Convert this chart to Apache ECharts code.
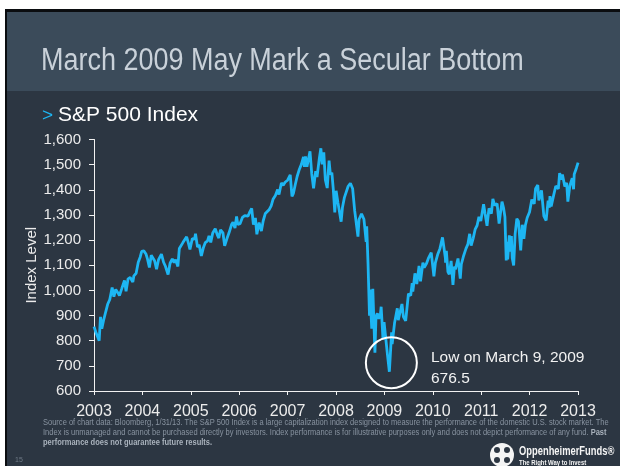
<!DOCTYPE html>
<html>
<head>
<meta charset="utf-8">
<script src="https://cdn.jsdelivr.net/npm/echarts@6/dist/echarts.min.js"></script>
<style>
  html, body { margin: 0; padding: 0; background: #ffffff; }
  #chart { width: 620px; height: 466px; }
</style>
</head>
<body>
<div id="chart"></div>
<script>
// S&P 500 closes (roughly two points a month)
const dates = [
  '2003-01-31','2003-02-14','2003-02-28','2003-03-11','2003-03-21','2003-03-31','2003-04-15','2003-04-30','2003-05-15','2003-05-30',
  '2003-06-17','2003-06-30','2003-07-14','2003-07-31','2003-08-11','2003-08-29','2003-09-18','2003-09-30','2003-10-15','2003-10-31',
  '2003-11-20','2003-11-28','2003-12-15','2003-12-31',
  '2004-01-15','2004-01-26','2004-02-11','2004-02-27','2004-03-10','2004-03-24','2004-04-07','2004-04-19','2004-05-03','2004-05-17',
  '2004-06-01','2004-06-23','2004-07-09','2004-07-23','2004-08-12','2004-08-27','2004-09-13','2004-09-27','2004-10-08','2004-10-25',
  '2004-11-05','2004-11-19','2004-12-03','2004-12-17','2004-12-30',
  '2005-01-14','2005-01-24','2005-02-11','2005-02-28','2005-03-07','2005-03-22','2005-04-04','2005-04-20','2005-05-06','2005-05-20',
  '2005-06-06','2005-06-17','2005-06-30','2005-07-15','2005-08-03','2005-08-19','2005-08-30','2005-09-12','2005-09-30','2005-10-13',
  '2005-10-31','2005-11-15','2005-12-05','2005-12-15','2005-12-30',
  '2006-01-11','2006-01-20','2006-02-06','2006-02-24','2006-03-14','2006-03-28','2006-04-07','2006-04-21','2006-05-05','2006-05-18',
  '2006-06-02','2006-06-13','2006-06-30','2006-07-17','2006-07-31','2006-08-16','2006-08-31','2006-09-15','2006-09-29','2006-10-13',
  '2006-10-31','2006-11-17','2006-11-27','2006-12-15','2006-12-29',
  '2007-01-12','2007-01-31','2007-02-20','2007-03-05','2007-03-16','2007-03-30','2007-04-13','2007-04-30','2007-05-15','2007-05-31',
  '2007-06-07','2007-06-15','2007-06-26','2007-07-19','2007-08-01','2007-08-15','2007-08-31','2007-09-10','2007-09-28','2007-10-09',
  '2007-10-19','2007-10-31','2007-11-12','2007-11-26','2007-12-10','2007-12-20','2007-12-31',
  '2008-01-11','2008-01-22','2008-02-01','2008-02-15','2008-03-10','2008-03-20','2008-04-04','2008-04-17','2008-05-02','2008-05-19',
  '2008-06-05','2008-06-20','2008-07-15','2008-07-23','2008-08-11','2008-08-29','2008-09-15','2008-09-19','2008-09-29','2008-10-10',
  '2008-10-13','2008-10-27','2008-11-04','2008-11-20','2008-11-28','2008-12-08','2008-12-19','2008-12-31',
  '2009-01-06','2009-01-20','2009-01-28','2009-02-09','2009-02-23','2009-03-09','2009-03-26','2009-03-30','2009-04-17','2009-04-30',
  '2009-05-08','2009-05-15','2009-06-12','2009-06-23','2009-07-10','2009-07-31','2009-08-17','2009-08-28','2009-09-02','2009-09-18',
  '2009-10-02','2009-10-19','2009-10-30','2009-11-17','2009-11-27','2009-12-15','2009-12-28',
  '2010-01-19','2010-02-08','2010-02-19','2010-03-10','2010-03-26','2010-04-14','2010-04-23','2010-05-06','2010-05-07','2010-05-13',
  '2010-05-25','2010-06-04','2010-06-18','2010-07-02','2010-07-13','2010-07-20','2010-08-09','2010-08-26','2010-09-03','2010-09-21',
  '2010-10-08','2010-10-22','2010-11-05','2010-11-16','2010-12-01','2010-12-17','2010-12-31',
  '2011-01-14','2011-01-28','2011-02-18','2011-03-01','2011-03-16','2011-03-31','2011-04-18','2011-04-29','2011-05-13','2011-05-31',
  '2011-06-15','2011-06-24','2011-07-07','2011-07-19','2011-07-29','2011-08-08','2011-08-11','2011-08-16','2011-08-19','2011-08-31',
  '2011-09-09','2011-09-16','2011-09-22','2011-10-03','2011-10-14','2011-10-27','2011-11-08','2011-11-25','2011-12-07','2011-12-19',
  '2011-12-30',
  '2012-01-13','2012-01-31','2012-02-17','2012-03-06','2012-03-16','2012-04-02','2012-04-10','2012-04-30','2012-05-18','2012-06-04',
  '2012-06-19','2012-06-28','2012-07-03','2012-07-12','2012-07-31','2012-08-16','2012-09-04','2012-09-14','2012-09-28','2012-10-05',
  '2012-10-23','2012-11-06','2012-11-15','2012-11-30','2012-12-18','2012-12-28','2013-01-02','2013-01-18','2013-01-31'
]
const closes = [
  856, 834, 841, 800, 895, 848, 885, 916, 946, 964,
  1011, 975, 1004, 990, 980, 1008, 1040, 996, 1046, 1051,
  1033, 1058, 1068, 1112,
  1133, 1155, 1157, 1145, 1124, 1091, 1140, 1135, 1117, 1084,
  1122, 1144, 1112, 1096, 1063, 1108, 1125, 1110, 1122, 1095,
  1167, 1170, 1191, 1194, 1213,
  1185, 1163, 1206, 1204, 1225, 1172, 1181, 1137, 1171, 1190,
  1197, 1217, 1191, 1228, 1245, 1220, 1208, 1241, 1229, 1177,
  1207, 1229, 1263, 1271, 1248,
  1294, 1262, 1265, 1290, 1297, 1293, 1295, 1312, 1326, 1262,
  1288, 1223, 1270, 1236, 1277, 1306, 1304, 1322, 1336, 1362,
  1377, 1401, 1381, 1427, 1418,
  1430, 1438, 1459, 1374, 1386, 1421, 1453, 1482, 1501, 1531,
  1491, 1533, 1492, 1553, 1465, 1406, 1474, 1451, 1527, 1565,
  1501, 1549, 1439, 1407, 1516, 1460, 1468,
  1401, 1310, 1396, 1349, 1273, 1330, 1370, 1366, 1414, 1426,
  1404, 1318, 1214, 1282, 1305, 1283, 1193, 1255, 1106, 899,
  1003, 848, 1006, 752, 896, 909, 887, 903,
  935, 805, 874, 870, 743, 676.5, 833, 787, 870, 873,
  929, 882, 946, 895, 879, 987, 979, 1029, 995, 1068,
  1025, 1097, 1036, 1110, 1091, 1108, 1127,
  1150, 1056, 1109, 1145, 1167, 1211, 1217, 1128, 1110, 1157,
  1074, 1064, 1117, 1022, 1095, 1083, 1127, 1047, 1104, 1139,
  1166, 1183, 1225, 1178, 1206, 1244, 1258,
  1293, 1276, 1343, 1306, 1257, 1326, 1305, 1364, 1338, 1345,
  1266, 1268, 1353, 1327, 1292, 1119, 1172, 1193, 1123, 1219,
  1154, 1216, 1129, 1099, 1224, 1285, 1275, 1159, 1261, 1205,
  1258,
  1289, 1312, 1361, 1344, 1404, 1419, 1358, 1398, 1295, 1278,
  1357, 1329, 1375, 1334, 1379, 1415, 1404, 1466, 1441, 1461,
  1413, 1428, 1353, 1416, 1446, 1402, 1462, 1486, 1508
]
const yearLabels = ['2003', '2004', '2005', '2006', '2007', '2008', '2009', '2010', '2011', '2012', '2013']
const lowDate = '2009-03-09'
const lowValue = 676.5

// the x axis runs from 1/31/03 to 1/31/13, each label marks another 31 January
const start = Date.UTC(2003, 0, 31)
function toYear(d) {
  const p = d.split('-')
  return 2003 + (Date.UTC(+p[0], +p[1] - 1, +p[2]) - start) / (365.25 * 864e5)
}
const points = dates.map((d, i) => [toYear(d), closes[i]])

const sans = '"Liberation Sans", Arial, sans-serif'
const chart = echarts.init(document.getElementById('chart'), null, { renderer: 'canvas' })
chart.setOption({
  animation: false,
  backgroundColor: '#ffffff',
  textStyle: { fontFamily: sans },
  grid: { left: 94, right: 42, top: 139.5, bottom: 75 },
  xAxis: {
    type: 'value',
    min: 2003,
    max: 2013,
    interval: 1,
    axisLine: { show: true, lineStyle: { color: '#f2f2f2', width: 1 } },
    axisTick: { show: true, length: 4, lineStyle: { color: '#f2f2f2' } },
    splitLine: { show: false },
    axisLabel: {
      color: '#ececec',
      fontSize: 16,
      margin: 13,
      formatter: v => yearLabels[Math.round(v) - 2003]
    }
  },
  yAxis: {
    type: 'value',
    min: 600,
    max: 1600,
    interval: 100,
    name: 'Index Level',
    nameLocation: 'middle',
    nameGap: 55,
    nameMoveOverlap: false,
    nameTextStyle: { color: '#ececec', fontSize: 15 },
    axisLine: { show: true, lineStyle: { color: '#f2f2f2', width: 1 } },
    axisTick: { show: true, length: 5, lineStyle: { color: '#f2f2f2' } },
    splitLine: { show: false },
    axisLabel: {
      color: '#ececec',
      fontSize: 15,
      margin: 13,
      formatter: v => v.toLocaleString('en-US')
    }
  },
  series: [
    {
      type: 'line',
      data: points,
      showSymbol: false,
      lineStyle: { color: '#1db6f3', width: 2.8 },
      z: 3,
      markPoint: {
        silent: true,
        symbol: 'circle',
        symbolSize: 51,
        symbolOffset: [2, -9],
        itemStyle: { color: 'rgba(0,0,0,0)', borderColor: '#ffffff', borderWidth: 2 },
        label: { show: false },
        data: [{ coord: [toYear(lowDate), lowValue] }]
      }
    }
  ],
  graphic: [
    // slide frame
    { type: 'rect', z: -10, shape: { x: 5, y: 9, width: 615, height: 457 }, style: { fill: '#0b0d10' } },
    { type: 'rect', z: -10, shape: { x: 7, y: 12, width: 613, height: 454 }, style: { fill: '#2c3642' } },
    { type: 'rect', z: -10, shape: { x: 7, y: 12, width: 613, height: 79 }, style: { fill: '#3b4b5a' } },
    {
      type: 'text', x: 41, y: 61, scaleX: 0.87,
      style: { text: 'March 2009 May Mark a Secular Bottom', fill: '#c9d1d9', font: '31px ' + sans, textVerticalAlign: 'middle' }
    },
    {
      type: 'text', x: 42, y: 116,
      style: { text: '>', fill: '#1db6f3', font: '19px ' + sans, textVerticalAlign: 'middle' }
    },
    {
      type: 'text', x: 58, y: 115,
      style: { text: 'S&P 500 Index', fill: '#ffffff', font: '21px ' + sans, textVerticalAlign: 'middle' }
    },
    // annotation for the low
    {
      type: 'text', x: 431, y: 358,
      style: { text: 'Low on March 9, 2009', fill: '#f2f2f2', font: '15.5px ' + sans, textVerticalAlign: 'middle' }
    },
    {
      type: 'text', x: 431, y: 379,
      style: { text: '676.5', fill: '#f2f2f2', font: '15.5px ' + sans, textVerticalAlign: 'middle' }
    },
    // footnote
    {
      type: 'text', x: 43, y: 423, scaleX: 0.835,
      style: {
        text: 'Source of chart data: Bloomberg, 1/31/13. The S&P 500 Index is a large capitalization index designed to measure the performance of the domestic U.S. stock market. The',
        fill: '#8893a0', font: '9px ' + sans, textVerticalAlign: 'middle'
      }
    },
    {
      type: 'text', x: 43, y: 433, scaleX: 0.835,
      style: {
        text: '{n|Index is unmanaged and cannot be purchased directly by investors. Index performance is for illustrative purposes only and does not depict performance of any fund. }{b|Past}',
        textVerticalAlign: 'middle',
        rich: {
          n: { fill: '#8893a0', font: '9px ' + sans },
          b: { fill: '#a9b2bc', font: 'bold 9px ' + sans }
        }
      }
    },
    {
      type: 'text', x: 43, y: 443, scaleX: 0.835,
      style: { text: 'performance does not guarantee future results.', fill: '#a9b2bc', font: 'bold 9px ' + sans, textVerticalAlign: 'middle' }
    },
    {
      type: 'text', x: 15, y: 460,
      style: { text: '15', fill: '#6e7986', font: '7px ' + sans, textVerticalAlign: 'middle' }
    },
    // logo
    { type: 'circle', shape: { cx: 502, cy: 455, r: 12 }, style: { fill: '#f4f4f4' } },
    { type: 'circle', shape: { cx: 497, cy: 450, r: 3 }, style: { fill: '#2c3642' } },
    { type: 'circle', shape: { cx: 507, cy: 450, r: 3 }, style: { fill: '#2c3642' } },
    { type: 'circle', shape: { cx: 497, cy: 460, r: 3 }, style: { fill: '#2c3642' } },
    { type: 'circle', shape: { cx: 507, cy: 460, r: 3 }, style: { fill: '#2c3642' } },
    {
      type: 'text', x: 519, y: 452, scaleX: 0.78,
      style: { text: 'OppenheimerFunds®', fill: '#f4f4f4', font: 'bold 12px ' + sans, textVerticalAlign: 'middle' }
    },
    {
      type: 'text', x: 519, y: 463, scaleX: 0.85,
      style: { text: 'The Right Way to Invest', fill: '#f4f4f4', font: 'bold 7px ' + sans, textVerticalAlign: 'middle' }
    }
  ]
})
window.addEventListener('resize', () => chart.resize())
</script>
</body>
</html>
